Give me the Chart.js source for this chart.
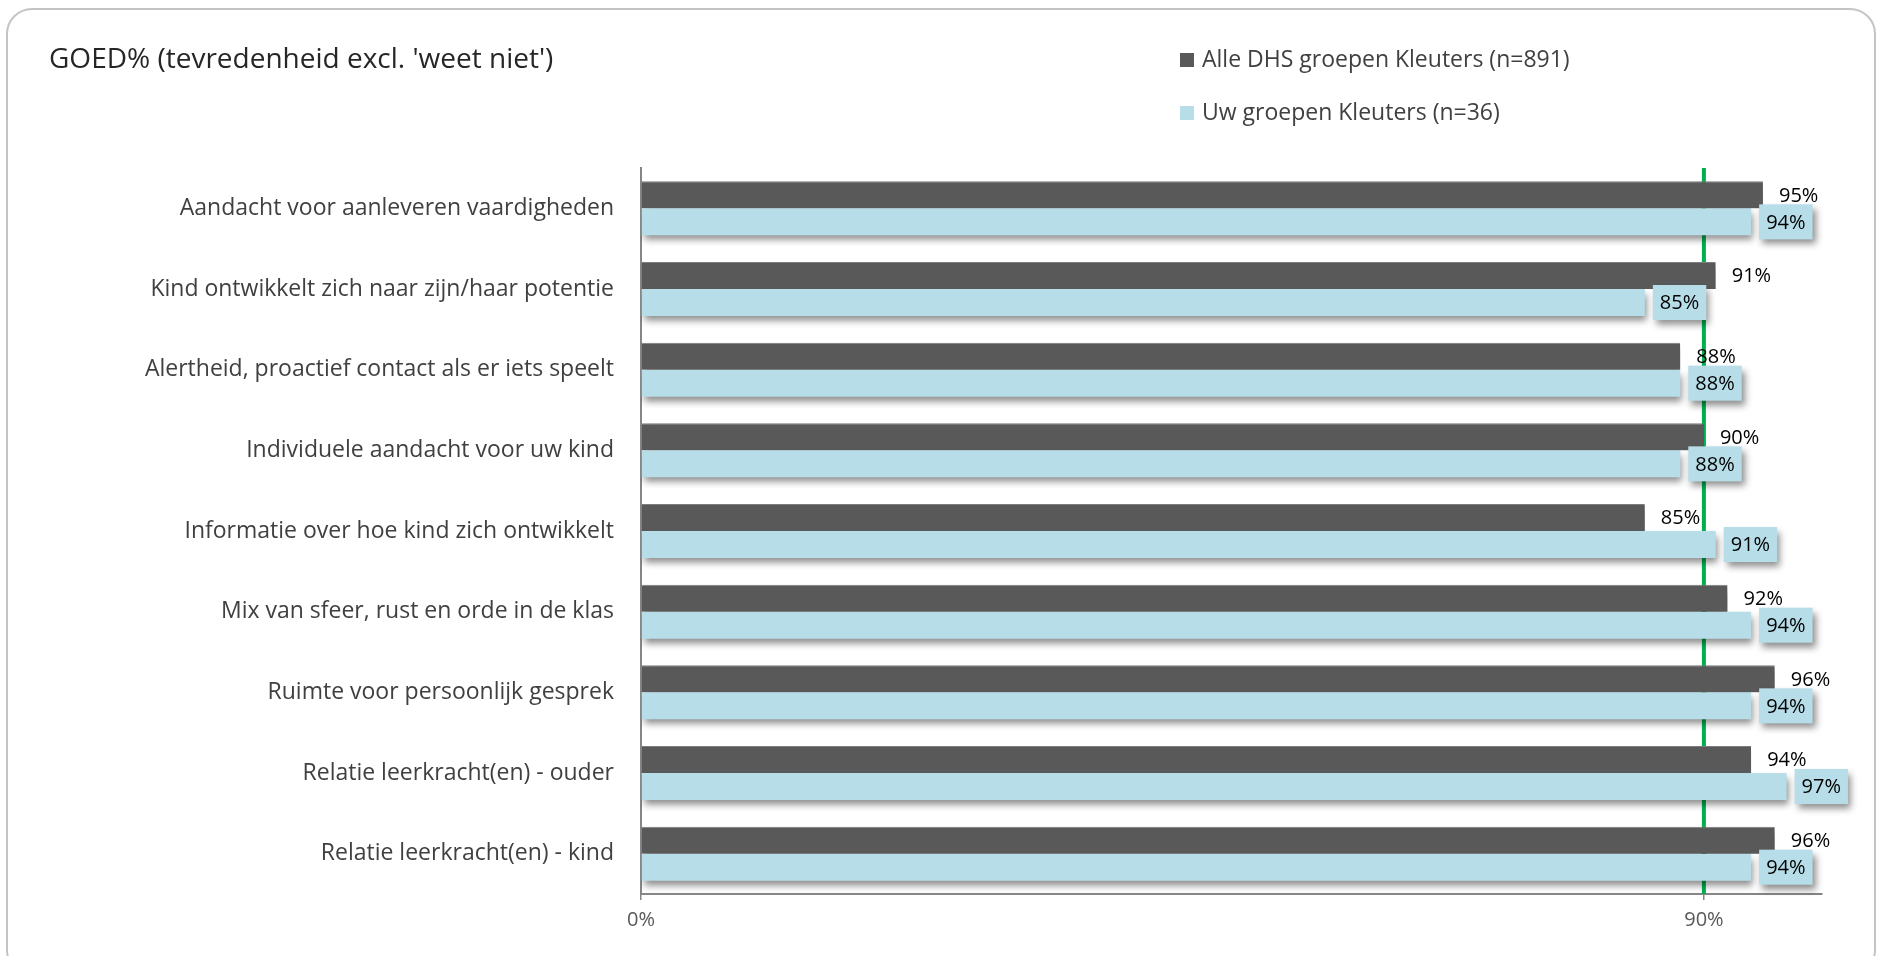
<!DOCTYPE html>
<html lang="nl">
<head>
<meta charset="utf-8">
<title>GOED%</title>
<script src="https://cdn.jsdelivr.net/npm/chart.js@4.4.1/dist/chart.umd.min.js"></script>
<style>
    html, body { margin: 0; padding: 0; background: #ffffff; }
    body { width: 1878px; height: 956px; position: relative; overflow: hidden; font-family: "Open Sans", Lato, sans-serif; }
    .marco { position: absolute; left: 6px; top: 8px; right: 2px; bottom: -20px; border: 2px solid #c4c4c4; border-radius: 26px; }
    #grafico { position: absolute; left: 0; top: 0; }
    .titulo { position: absolute; left: 49px; top: 39px; font-size: 28px; line-height: 36px; color: #262626; white-space: nowrap; }
    .leyenda { position: absolute; left: 1180px; top: 43px; }
    .leyenda .item { position: absolute; left: 0; white-space: nowrap; font-size: 23px; line-height: 30px; color: #404040; }
    .leyenda .caja { display: inline-block; width: 14px; height: 14px; margin-right: 8px; vertical-align: 0px; }
</style>
</head>
<body>
<div class="marco"></div>
<canvas id="grafico" width="1878" height="956"></canvas>
<div class="titulo">GOED% (tevredenheid excl. 'weet niet')</div>
<div class="leyenda" id="leyenda"></div>

<script>
// Datos del gráfico
const categorias = [
    'Aandacht voor aanleveren vaardigheden',
    'Kind ontwikkelt zich naar zijn/haar potentie',
    'Alertheid, proactief contact als er iets speelt',
    'Individuele aandacht voor uw kind',
    'Informatie over hoe kind zich ontwikkelt',
    'Mix van sfeer, rust en orde in de klas',
    'Ruimte voor persoonlijk gesprek',
    'Relatie leerkracht(en) - ouder',
    'Relatie leerkracht(en) - kind'
];
const valoresAlle = [95, 91, 88, 90, 85, 92, 96, 94, 96];
const valoresUw = [94, 85, 88, 88, 91, 94, 94, 97, 94];
const nombresSeries = ['Alle DHS groepen Kleuters (n=891)', 'Uw groepen Kleuters (n=36)'];
const ticksX = [0, 90];
const lineaObjetivo = 90;

const colorOscuro = '#595959';
const colorClaro = '#b7dde8';
const fuente = '"Open Sans", Lato, sans-serif';

// Leyenda en HTML (vertical, arriba a la derecha)
const leyenda = document.getElementById('leyenda');
[colorOscuro, colorClaro].forEach((color, i) => {
    const item = document.createElement('div');
    item.className = 'item';
    item.style.top = (i * 53) + 'px';
    item.innerHTML = '<span class="caja" style="background:' + color + '"></span>' + nombresSeries[i];
    leyenda.appendChild(item);
});

// Línea verde del 90% (detrás de las barras)
const pluginLinea = {
    id: 'lineaObjetivo',
    beforeDatasetsDraw(chart) {
        const { ctx, chartArea, scales } = chart;
        const x = scales.x.getPixelForValue(lineaObjetivo);
        ctx.save();
        ctx.strokeStyle = '#00b050';
        ctx.lineWidth = 4;
        ctx.beginPath();
        ctx.moveTo(x, chartArea.top);
        ctx.lineTo(x, chartArea.bottom);
        ctx.stroke();
        ctx.restore();
    }
};

// Sombra debajo de las barras
const pluginSombra = {
    id: 'sombraBarras',
    beforeDatasetDraw(chart) {
        const ctx = chart.ctx;
        ctx.save();
        ctx.shadowColor = 'rgba(0,0,0,0.45)';
        ctx.shadowBlur = 7;
        ctx.shadowOffsetX = 2;
        ctx.shadowOffsetY = 5;
    },
    afterDatasetDraw(chart) {
        chart.ctx.restore();
    }
};

// Etiquetas de valores
const pluginEtiquetas = {
    id: 'etiquetasValores',
    afterDatasetsDraw(chart) {
        const ctx = chart.ctx;
        ctx.save();
        ctx.font = '20px ' + fuente;
        ctx.textBaseline = 'middle';

        // Serie oscura: texto simple a la derecha
        chart.getDatasetMeta(0).data.forEach((barra, i) => {
            ctx.fillStyle = '#000000';
            ctx.textAlign = 'left';
            ctx.fillText(valoresAlle[i] + '%', barra.x + 16, barra.y + 1);
        });

        // Serie clara: texto dentro de una caja con sombra
        chart.getDatasetMeta(1).data.forEach((barra, i) => {
            const texto = valoresUw[i] + '%';
            const ancho = ctx.measureText(texto).width + 14;
            const alto = 35;
            const x0 = barra.x + 8;
            const y0 = barra.y - alto / 2;
            ctx.save();
            ctx.shadowColor = 'rgba(0,0,0,0.45)';
            ctx.shadowBlur = 7;
            ctx.shadowOffsetX = 3;
            ctx.shadowOffsetY = 5;
            ctx.fillStyle = colorClaro;
            ctx.fillRect(x0, y0, ancho, alto);
            ctx.restore();
            ctx.fillStyle = '#000000';
            ctx.textAlign = 'center';
            ctx.fillText(texto, x0 + ancho / 2, barra.y + 1);
        });
        ctx.restore();
    }
};

const ctx = document.getElementById('grafico').getContext('2d');
new Chart(ctx, {
    type: 'bar',
    data: {
        labels: categorias,
        datasets: [
            {
                label: nombresSeries[0],
                data: valoresAlle,
                backgroundColor: colorOscuro,
                borderColor: '#7f7f7f',
                borderWidth: { top: 1, right: 0, bottom: 0, left: 0 },
                borderSkipped: false,
                categoryPercentage: 0.67,
                barPercentage: 1.0
            },
            {
                label: nombresSeries[1],
                data: valoresUw,
                backgroundColor: colorClaro,
                borderWidth: 0,
                categoryPercentage: 0.67,
                barPercentage: 1.0
            }
        ]
    },
    options: {
        indexAxis: 'y',
        responsive: false,
        animation: false,
        layout: { padding: { left: 0, right: 56, top: 168, bottom: 22 } },
        scales: {
            x: {
                min: 0,
                max: 100,
                afterBuildTicks: (escala) => {
                    escala.ticks = ticksX.map(v => ({ value: v }));
                },
                afterFit: (escala) => { escala.height = 40; },
                grid: { drawOnChartArea: false, drawTicks: true, tickLength: 6, color: '#868686', lineWidth: 1.5 },
                border: { display: true, color: '#868686', width: 2 },
                ticks: {
                    padding: 8,
                    color: '#595959',
                    font: { family: fuente, size: 20 },
                    callback: (v) => v + '%'
                }
            },
            y: {
                afterFit: (escala) => { escala.width = 641; },
                grid: { display: false, drawTicks: false },
                border: { display: true, color: '#868686', width: 2 },
                ticks: {
                    padding: 27,
                    color: '#404040',
                    font: { family: fuente, size: 23 }
                }
            }
        },
        plugins: {
            legend: { display: false },
            title: { display: false },
            tooltip: { enabled: false }
        }
    },
    plugins: [pluginLinea, pluginSombra, pluginEtiquetas]
});
</script>
</body>
</html>
